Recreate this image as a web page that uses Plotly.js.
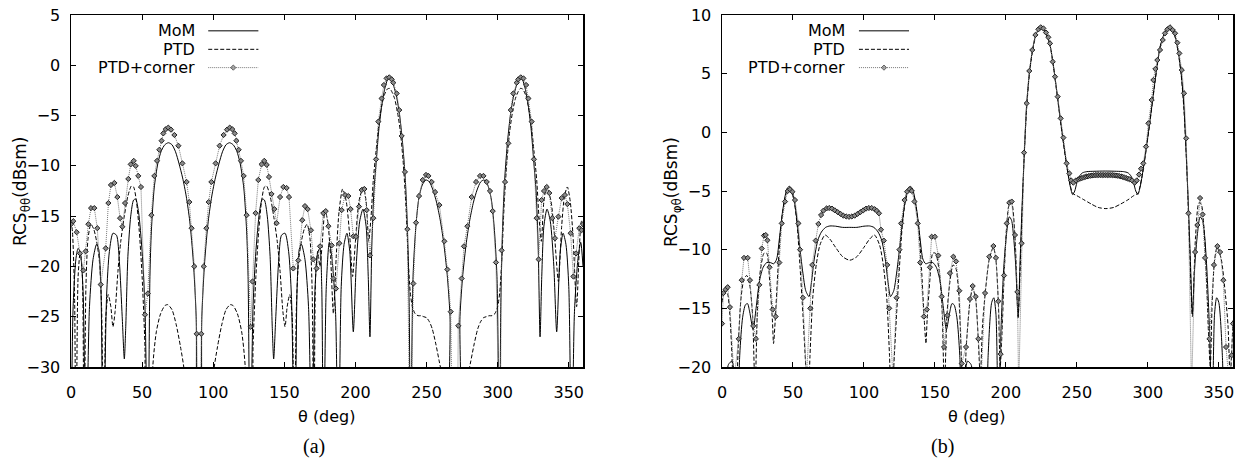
<!DOCTYPE html>
<html><head><meta charset="utf-8">
<script src="https://cdn.plot.ly/plotly-3.0.1.min.js"></script>
<style>html,body{margin:0;padding:0;background:#fff}</style>
</head><body><div id="chart" style="width:1249px;height:471px"></div>
<script>
// ---------- data: [theta (deg), RCS (dBsm)] ----------
const seriesNames = ['MoM', 'PTD', 'PTD+corner'];
const xTicks = [0, 50, 100, 150, 200, 250, 300, 350];
const yTicksA = [-30, -25, -20, -15, -10, -5, 0, 5];
const yTicksB = [-20, -15, -10, -5, 0, 5, 10];

// panel (a) RCS theta-theta
const momA = [[0,-40],[1.5,-24],[3.5,-19.2],[5,-18.2],[6.5,-18.6],[8.5,-22.5],[10.5,-40],[13,-24],[15.5,-19.3],[18,-17.8],[19.5,-18.3],[21,-22],[22.7,-40],[25,-23],[27,-18.5],[29.5,-16.7],[32,-16.9],[34,-19.5],[36,-25],[37.5,-29.2],[38.5,-26],[40,-19],[42,-15],[44,-13.4],[45.5,-13.3],[47.5,-14.6],[50,-18.5],[52,-24],[54,-40],[55.5,-21],[56.5,-16.5],[58.5,-12.2],[61,-9.8],[63.5,-8.5],[66,-7.9],[68.5,-7.7],[71,-7.9],[73.5,-8.6],[76,-9.8],[78.5,-11.2],[81,-13],[83.5,-15.5],[86,-19.5],[88,-25],[89.5,-40],
[90.5,-40],[92,-25],[94,-19.5],[96.5,-15.5],[99,-13],[101.5,-11.2],[104,-9.8],[106.5,-8.6],[109,-7.9],[111.5,-7.7],[114,-7.9],[116.5,-8.5],[119,-9.8],[121.5,-12.2],[123.5,-16.5],[124.5,-21],[126,-40],[128,-24],[130,-18.5],[132.5,-14.6],[134.5,-13.3],[136,-13.4],[138,-15],[140,-19],[141.5,-26],[142.5,-29.2],[144,-25],[146,-19.5],[148,-16.9],[150.5,-16.7],[153,-18.5],[155,-23],[157.3,-40],[159,-22],[160.5,-18.3],[162,-17.8],[164.5,-19.3],[167,-24],[169.5,-40],[171.5,-22.5],[173.5,-18.6],[175,-18.2],[176.3,-22],[177.5,-40],[179.5,-22],[181.6,-17.6],[183.5,-19.2],[186,-24.5],[188,-40],[190,-22],[192,-17.8],[194,-16.7],[196,-18.5],[198.5,-26.5],[200.5,-20],[203,-15.5],[205.3,-14.3],[207.5,-16],[209,-21],[210.2,-27],[211.5,-18],[213,-12.5],[214.5,-9.8],[216.5,-6.3],[218.5,-4.0],[220.5,-2.4],[222.5,-1.45],[224,-1.2],[225.5,-1.5],[227,-2.1],[229,-3.2],[231,-4.9],[233,-7.5],[235,-11.2],[236.5,-16],[237.8,-24],[238.7,-40],[240.5,-21],[242.5,-16],[244.5,-13.3],[247,-11.9],[249.6,-11.4],[252,-11.6],[254.5,-12.4],[257,-13.6],[259.5,-15.3],[262,-17.6],[264.5,-20.8],[266.5,-25],[267.8,-40],
[272.2,-40],[273.5,-25],[275.5,-20.8],[278,-17.6],[280.5,-15.3],[283,-13.6],[285.5,-12.4],[288,-11.6],[290.4,-11.4],[293,-11.9],[295.5,-13.3],[297.5,-16],[299.5,-21],[301.3,-40],[302.2,-24],[303.5,-16],[305,-11.2],[307,-7.5],[309,-4.9],[311,-3.2],[313,-2.1],[314.5,-1.5],[316,-1.2],[317.5,-1.45],[319.5,-2.4],[321.5,-4.0],[323.5,-6.3],[325.5,-9.8],[327,-12.5],[328.5,-18],[329.8,-27],[331,-21],[332.5,-16],[334.7,-14.3],[337,-15.5],[339.5,-20],[341.5,-26.5],[344,-18.5],[346,-16.7],[348,-17.8],[350,-22],[352,-40],[354,-24.5],[356.5,-19.2],[358.4,-17.6],[360,-20]];

const ptdA = [[0,-15.5],[1,-16.5],[2.5,-23],[3.5,-40],[5,-21],[6.5,-18.5],[8,-21],[9.2,-40],[10.5,-22],[12,-17.2],[14,-15.8],[16,-16.3],[18,-17.5],[20,-19.5],[21.5,-24],[23,-40],[24.5,-25],[26.2,-22.8],[28,-24],[29.5,-26],[31,-24.5],[33,-20.5],[35,-17.5],[37.5,-15],[40,-13],[42.5,-12],[44,-12.1],[46,-13.5],[48,-16.5],[50,-21],[52,-28],[53.5,-40],[56.5,-40],[57.5,-30],[60,-26.5],[63,-24.7],[66,-23.9],[68,-23.8],[71,-24.3],[74,-25.8],[77,-28],[79.7,-30.5],[82,-40],
[98,-40],[100.3,-30.5],[103,-28],[106,-25.8],[109,-24.3],[112,-23.8],[114,-23.9],[117,-24.7],[120,-26.5],[122.5,-30],[123.5,-40],[126.5,-40],[128,-28],[130,-21],[132,-16.5],[134,-13.5],[136,-12.1],[137.5,-12],[140,-13],[142.5,-15],[145,-17.5],[147,-20.5],[149,-24.5],[150.5,-26],[152,-24],[153.8,-22.8],[155.5,-25],[157,-40],[158.5,-24],[160,-19.5],[162,-17.5],[164,-16.3],[166,-15.8],[168,-17.2],[169.5,-22],[170.8,-40],[172,-21],[173.5,-18.5],[175,-20],[176.5,-18],[178.6,-14.4],[180.5,-15.5],[182.5,-19],[184.5,-24.7],[186.5,-19],[188.5,-14.5],[191,-12.3],[193.5,-13.5],[196,-17],[198,-21],[200,-17.5],[202.5,-13.5],[205.5,-12.1],[207.5,-13.5],[209.3,-17.5],[211,-15],[212.5,-11.5],[214.5,-8.5],[216.5,-5.8],[218.5,-4.0],[220.5,-2.9],[222.5,-2.35],[224,-2.3],[225.5,-2.6],[227.5,-3.3],[229.5,-4.6],[231.5,-6.5],[233.5,-9.5],[235.5,-14],[237,-19],[238.5,-22.5],[240,-24],[242,-24.7],[244,-24.9],[246,-24.9],[248,-25],[250,-25.1],[252,-25.5],[254,-26.2],[256.5,-27.7],[259,-29.5],[261,-31],[263,-40],
[277,-40],[279,-31],[281,-29.5],[283.5,-27.7],[286,-26.2],[288,-25.5],[290,-25.1],[292,-25],[294,-24.9],[296,-24.9],[298,-24.7],[300,-24],[301.5,-22.5],[303,-19],[304.5,-14],[306.5,-9.5],[308.5,-6.5],[310.5,-4.6],[312.5,-3.3],[314.5,-2.6],[316,-2.3],[317.5,-2.35],[319.5,-2.9],[321.5,-4.0],[323.5,-5.8],[325.5,-8.5],[327.5,-11.5],[329,-15],[330.7,-17.5],[332.5,-13.5],[334.5,-12.1],[337.5,-13.5],[340,-17],[342.7,-21.5],[345,-16],[347,-13],[349,-12.1],[351,-13.5],[353,-17],[355.5,-24],[357.5,-18],[359,-15.5],[360,-15.5]];

const corA = [[0,-15.8],[1.6,-15.5],[4,-16.6],[6.3,-18.7],[8.7,-20.4],[10.3,-18.5],[12.2,-15.8],[14.1,-14.2],[16.4,-14.2],[18.5,-16.2],[20.9,-21.8],[24.4,-18.2],[26.3,-13.7],[28.1,-11.9],[30.5,-11.7],[32.6,-13.1],[34.5,-15.2],[36.1,-16.05],[38,-13.7],[40.3,-11.3],[42,-9.85],[44.1,-9.5],[45.5,-10],[47.3,-11],[49.2,-12.1],[52,-24.8],[54,-22.7],[56.5,-14.9],[58.6,-11],[60.5,-9.5],[62.1,-8.4],[63.7,-7.5],[64.9,-6.77],[66.5,-6.37],[68.4,-6.2],[70.3,-6.4],[72.7,-6.93],[75.5,-8.0],[78.3,-9.75],[81.3,-11.6],[83.2,-13.6],[84.8,-16.2],[86.7,-20],[88.4,-26.7],[90,-40],
[91.6,-26.7],[93.3,-20],[95.2,-16.2],[96.8,-13.6],[98.7,-11.6],[101.7,-9.75],[104.5,-8.0],[107.3,-6.93],[109.7,-6.4],[111.6,-6.2],[113.5,-6.37],[115.1,-6.77],[116.3,-7.5],[117.9,-8.4],[119.5,-9.5],[121.4,-11],[123.5,-14.9],[126.3,-26],[127.6,-21.5],[129.8,-14.7],[131.7,-11.4],[134,-9.85],[135.9,-9.5],[137.6,-9.9],[139.2,-11.1],[141,-12.8],[143,-14.3],[144.6,-15.7],[147,-13.1],[149.3,-12.1],[151.6,-12.2],[153.3,-13.1],[156.3,-20.2],[159.8,-19.4],[162.6,-15.4],[164.5,-14],[166.4,-14.3],[168.7,-16.4],[170.4,-19.3],[172.7,-20.2],[175.1,-18],[177.4,-14.7],[179.1,-14.5],[181,-16],[183.3,-17.9],[184.5,-21.2],[186.3,-22.2],[188.7,-17.7],[190.3,-14.4],[192.7,-12.9],[195,-13],[196.6,-14.3],[198.5,-17],[200.4,-17.05],[202.5,-14.05],[204.4,-12.4],[206.3,-12.3],[207.9,-14.4],[210.2,-18.9],[212.6,-15.2],[214.5,-9.35],[216.1,-5.6],[218.4,-3.3],[220,-1.96],[221.9,-1.3],[223.8,-1.2],[225.5,-1.4],[226.6,-1.73],[229,-2.8],[230.8,-4.45],[232.5,-7.03],[234.8,-10.6],[236.5,-16.3],[238.4,-40],[240.7,-21.7],[242.6,-15.65],[244.7,-13],[247.3,-11.4],[249.6,-10.9],[251.3,-11],[253.6,-11.6],[256,-12.6],[259,-13.9],[262.5,-17.5],[264.6,-20.3],[267,-24.5],[268.5,-40],
[271.5,-40],[272.3,-25.9],[274.7,-21.2],[276.3,-18.0],[278.7,-16],[281.7,-13.1],[284.8,-11.6],[287.6,-11.0],[290,-11],[292.3,-11.6],[294.6,-12.5],[296.5,-14.5],[298.8,-19.6],[301.6,-40],[302.8,-18.4],[305.2,-11.6],[307.5,-7.76],[309.2,-4.45],[311,-2.8],[313.4,-1.73],[314.5,-1.4],[316.2,-1.2],[318.1,-1.3],[320,-1.96],[321.6,-3.3],[323.9,-5.6],[325.5,-9.35],[327.4,-15.2],[328.8,-19.3],[330.9,-13.4],[332.6,-12.5],[334.5,-12.1],[336.3,-12.7],[338.4,-15.2],[340.3,-17.2],[342.7,-15.05],[345,-13.2],[347.3,-12.9],[349,-13.8],[351.3,-16.7],[353.2,-21],[355.1,-18.7],[357.4,-16.2],[359,-16.4],[360,-15.8]];

// panel (b) RCS phi-theta
const momB = [[0,-21],[2,-22.5],[4.5,-19.8],[7,-19.5],[9,-21],[10.5,-28],[12.5,-19],[14.5,-15.8],[16.5,-14.7],[18,-14.6],[19.5,-15.3],[21.9,-16.8],[24,-15],[26.5,-12.6],[29,-11.5],[31.5,-11.1],[34,-11.1],[36.5,-11.2],[38.5,-10.8],[40.5,-9],[42.5,-6.9],[44.5,-5.4],[46,-4.75],[47.5,-4.6],[49,-4.8],[50.5,-5.5],[52,-6.7],[53.5,-8.3],[55,-10],[57,-12],[59,-13.5],[61.3,-14],[63,-12.8],[65,-10.8],[67.5,-9.2],[70,-8.5],[73,-8.1],[76,-7.98],[80,-8],[85,-8.1],[90,-8.1],[95,-8.1],[100,-8],[104,-7.98],[107,-8.1],[110,-8.5],[112.5,-9.2],[115,-10.8],[117,-12.8],[118.7,-14],[121,-13.5],[123,-12],[125,-10],[126.5,-8.3],[128,-6.7],[129.5,-5.5],[131,-4.8],[132.5,-4.6],[134,-4.75],[135.5,-5.4],[137.5,-6.9],[139.5,-9],[141.5,-10.8],[143.5,-11.2],[146,-11.1],[148.5,-11.1],[151,-11.5],[153.5,-12.6],[156,-15],[158.1,-16.8],[160.5,-15.3],[162,-14.6],[163.5,-14.7],[165.5,-15.8],[167.5,-19],[169.5,-28],[171,-21],[173,-19.5],[175.5,-19.8],[178,-22.5],[180,-21],
[182,-24],[185.3,-30],[187.5,-19],[190,-14.5],[191.5,-14.1],[193,-15.5],[194.7,-25],[196.5,-17],[198.5,-11.5],[200.5,-8.6],[202.4,-7.2],[204,-7.5],[205.5,-9],[207,-11.5],[208.6,-15.8],[210,-11],[211.5,-6],[213,-1.8],[214.6,2.3],[216.5,5.0],[218.6,6.9],[220.8,8.2],[222.9,8.75],[224.5,8.9],[226.4,8.8],[228.3,8.45],[230,7.9],[231.5,7.2],[233,6.1],[234.6,4.7],[236.5,2.9],[238.6,0.9],[240.5,-0.8],[242.5,-2.5],[244,-3.7],[245.5,-4.7],[247,-5.3],[248.5,-5.0],[250,-4.3],[252,-3.7],[254,-3.45],[257,-3.35],[262,-3.32],[270,-3.3],[278,-3.32],[283,-3.35],[286,-3.45],[288,-3.7],[290,-4.3],[291.5,-5.0],[293,-5.3],[294.5,-4.7],[296,-3.7],[297.5,-2.5],[299.5,-0.8],[301.4,0.9],[303.5,2.9],[305.4,4.7],[307,6.1],[308.5,7.2],[310,7.9],[311.7,8.45],[313.6,8.8],[315.5,8.9],[317.1,8.75],[319.2,8.2],[321.4,6.9],[323.5,5.0],[325.4,2.3],[327,-1.8],[328.5,-6],[330,-11],[331.4,-15.5],[333,-11.5],[335,-8.6],[336.8,-7.2],[338.5,-7.5],[340,-8.8],[341.5,-11.5],[343.5,-17],[345.3,-25],[347,-15.5],[348.5,-14.1],[350,-14.5],[352.5,-19],[354.7,-30],[357,-24],[360,-21]];

const ptdB = [[0,-14.5],[2,-13.4],[4,-13.8],[5.5,-15.5],[7,-19],[8.5,-24],[9.5,-25],[11.5,-18],[13.5,-14],[15.5,-12.5],[17.4,-12.2],[19.5,-13],[21.5,-15.5],[23.3,-22],[25,-15],[27,-11.8],[29.6,-10.3],[31.5,-10.3],[33.5,-12.5],[35.5,-16],[36.3,-18],[37.5,-16],[39.5,-11.5],[41.5,-8],[43.5,-6.2],[45.5,-5.1],[47.3,-4.9],[49,-5.1],[51,-6],[53,-8],[55,-11.5],[57,-15.5],[59,-20],[60.5,-24],[62,-19],[64,-14],[66.5,-11.2],[69,-9.6],[72.6,-8.75],[76,-9.1],[80,-9.8],[85,-10.6],[90,-10.9],[95,-10.6],[100,-9.8],[104,-9.1],[107.4,-8.75],[111,-9.6],[113.5,-11.2],[116,-14],[118,-19],[119.5,-24],[121,-20],[123,-15.5],[125,-11.5],[127,-8],[129,-6],[131,-5.1],[132.7,-4.9],[134.5,-5.1],[136.5,-6.2],[138.5,-8],[140.5,-11.5],[142.5,-16],[143.7,-18],[144.5,-16],[146.5,-12.5],[148.5,-10.3],[150.4,-10.3],[153,-11.8],[155,-15],[156.7,-22],[158.5,-15.5],[160.5,-12.8],[162.8,-11.3],[164.8,-11.6],[166.8,-13.8],[168.9,-20],[170.5,-24],[172,-18.5],[174.7,-14.4],[176.6,-13.3],[178.7,-14.2],[180.6,-17.8],
[182,-21],[183.5,-16.5],[185.3,-13.9],[188.3,-10.8],[191.2,-9.8],[193,-10.9],[194.7,-14.6],[196,-20],[197.3,-17],[198.7,-12.4],[200.6,-7.9],[202.4,-6.1],[204,-6.0],[206.4,-8.9],[208.6,-15.7],[210.5,-10],[212.8,-2.2],[214.6,2.0],[216.5,4.9],[218.6,6.8],[220.8,8.1],[222.9,8.7],[224.5,8.85],[226.4,8.75],[228.3,8.4],[230,7.9],[231.5,7.2],[233,6.0],[234.6,4.6],[236.5,2.8],[238.6,0.8],[240.5,-0.9],[242.5,-2.6],[244,-3.7],[245.5,-4.6],[247,-5.2],[250,-5.4],[255,-5.75],[260,-6.1],[265,-6.4],[270.5,-6.5],[276,-6.4],[281,-6.1],[286,-5.75],[290,-5.4],[293,-5.2],[294.5,-4.6],[296,-3.7],[297.5,-2.6],[299.5,-0.9],[301.4,0.8],[303.5,2.8],[305.4,4.6],[307,6.0],[308.5,7.2],[310,7.9],[311.7,8.4],[313.6,8.75],[315.5,8.85],[317.1,8.7],[319.2,8.1],[321.4,6.8],[323.5,4.9],[325.4,2.0],[327.2,-2.2],[329.5,-10],[331.4,-15.7],[333.6,-8.9],[336,-6.0],[337.6,-6.1],[339.4,-7.9],[341.3,-12.4],[342.7,-17],[344,-20],[345.3,-14.6],[347,-10.9],[348.8,-9.8],[351.7,-10.8],[354.7,-13.9],[356.5,-16.5],[358,-21],[359.4,-17.8],[360,-16]];

const corB = [[0,-16.3],[1,-13.7],[2.5,-13.4],[4,-13.2],[5.6,-14.9],[8.5,-21],[11.8,-17.6],[13.9,-12.6],[15.5,-10.7],[18.1,-10.7],[19.7,-12.6],[22,-16.5],[23.9,-17.6],[26.3,-13],[28,-9.9],[29.6,-8.8],[30.8,-8.75],[32,-9.2],[33.5,-11.5],[35.7,-15.1],[37.8,-15.7],[40.4,-11.1],[42.1,-7.76],[44.4,-5.9],[46.3,-5.0],[47.9,-4.86],[49.6,-5.06],[51.4,-5.77],[53.8,-7.76],[55,-10],[57,-14.1],[59.5,-21],[62.2,-15],[63.6,-11.3],[66,-9.23],[67.9,-7.81],[69.8,-7.05],[71.4,-6.68],[73.7,-6.48],[75.5,-6.45],[77.5,-6.5],[79.5,-6.65],[81.5,-6.8],[83.5,-6.95],[85.5,-7.1],[87.5,-7.17],[89.5,-7.2],[91.5,-7.17],[93.5,-7.1],[95.5,-6.95],[97.5,-6.8],[99.5,-6.65],[101.5,-6.5],[103.5,-6.45],[105.5,-6.45],[107.5,-6.55],[109,-6.68],[110.6,-6.9],[112,-8.3],[114,-9.23],[116.4,-11.3],[117.8,-15],[120.5,-21],[123,-14.1],[125,-10],[126.2,-7.76],[128.6,-5.77],[130.4,-5.06],[132.1,-4.86],[133.7,-5.0],[135.6,-5.9],[137.9,-7.76],[139.6,-11.1],[142.2,-15.7],[144.3,-15.1],[146.5,-11.5],[147.7,-8.9],[150,-8.9],[152.4,-10.5],[154.8,-14],[156.4,-18.3],[158.8,-15.6],[160.6,-12],[163,-10.6],[164.9,-11],[167.2,-13.5],[168.9,-19.7],[171.9,-18.3],[174.7,-14.2],[176.6,-13.1],[178.7,-14],[180.6,-17.6],
[182.5,-21],[185.3,-13.7],[188.3,-10.6],[191.2,-9.69],[193,-10.7],[194.7,-14.4],[196.3,-18.9],[198.7,-12.2],[200.6,-7.76],[202.4,-6.0],[204.1,-5.9],[206.4,-8.75],[208.1,-13.6],[209,-22],[211.1,-9.46],[212.8,-1.73],[214.6,2.47],[216.5,5.23],[218.6,7.02],[220.8,8.3],[222.9,8.78],[224.5,8.95],[226.4,8.86],[228.3,8.5],[229.9,8.1],[231.1,7.58],[233,6.02],[234.6,4.74],[236.5,3.04],[238.6,1.19],[240.5,-0.45],[242.8,-2.64],[244.7,-3.5],[246,-4.1],[247.5,-4.29],[249.3,-4.1],[251.1,-4.0],[252.3,-3.95],[253.5,-3.9],[254.7,-3.85],[255.9,-3.8],[257.1,-3.76],[258.3,-3.72],[259.5,-3.7],[260.7,-3.68],[261.9,-3.66],[263.1,-3.65],[264.3,-3.64],[265.5,-3.64],[266.7,-3.64],[267.9,-3.64],[269.1,-3.64],[270.3,-3.64],[271.5,-3.64],[272.7,-3.64],[273.9,-3.64],[275.1,-3.65],[276.3,-3.66],[277.5,-3.68],[278.7,-3.7],[279.9,-3.72],[281.1,-3.76],[282.3,-3.8],[283.5,-3.85],[284.7,-3.9],[285.9,-3.95],[287.1,-4.0],[288.9,-4.1],[290.7,-4.29],[292.2,-4.1],[293.8,-3.6],[295.2,-3.1],[296.8,-2.64],[298.7,-1.22],[300.4,0.77],[302.7,2.76],[303.9,4.46],[305.3,5.4],[306.7,6.16],[308.6,7.02],[310.5,7.87],[312.1,8.44],[313.8,8.78],[315.6,8.95],[317.5,8.72],[319.2,8.44],[320.8,7.64],[322.2,6.73],[323.9,5.31],[325.5,3.33],[327,-0.51],[328.6,-6.9],[330.8,-22],[333.3,-10.2],[334.9,-7.9],[336.8,-5.6],[338.6,-7.0],[340.3,-10.7],[343.4,-17.6],[346.6,-11.3],[349,-9.7],[350.9,-10.2],[353.2,-12.6],[355.1,-18.3],[357,-21],[359.1,-19],[360,-16.3]];

// ---------- styles ----------
const FONT = 'DejaVu Sans';
const SERIF = 'Liberation Serif';
const W = 1249, H = 471;
const styles = [
  {mode: 'lines', line: {color: '#000', width: 1, shape: 'spline', smoothing: 0.7}},
  {mode: 'lines', line: {color: '#000', width: 1, dash: '4px,2px', shape: 'spline', smoothing: 0.7}},
  {mode: 'lines+markers', line: {color: '#777', width: 1, dash: '1px,1px'},
   marker: {symbol: 'diamond', size: 4, color: '#8a8a8a', line: {color: '#222', width: 1}}}
];

function trace(data, idx, xa, ya) {
  return Object.assign({
    type: 'scatter', x: data.map(p => p[0]), y: data.map(p => p[1]),
    xaxis: xa, yaxis: ya, showlegend: false, name: seriesNames[idx], hoverinfo: 'skip'
  }, JSON.parse(JSON.stringify(styles[idx])));
}

const traces = [
  trace(momA, 0, 'x', 'y'), trace(ptdA, 1, 'x', 'y'), trace(corA, 2, 'x', 'y'),
  trace(momB, 0, 'x2', 'y2'), trace(ptdB, 1, 'x2', 'y2'), trace(corB, 2, 'x2', 'y2')
];

// legend samples (in overlay axes of each panel, 0..1 units)
const legRowsY = [0.955, 0.9025, 0.8505];
const legX0 = 0.268, legX1 = 0.366;
[['x3', 'y3'], ['x4', 'y4']].forEach(([xa, ya]) => {
  seriesNames.forEach((nm, i) => {
    const st = JSON.parse(JSON.stringify(styles[i]));
    if (i === 2) st.marker.size = [0, 4, 0];
    else st.line.shape = 'linear';
    traces.push(Object.assign({
      type: 'scatter', x: [legX0, (legX0 + legX1) / 2, legX1], y: [legRowsY[i], legRowsY[i], legRowsY[i]],
      xaxis: xa, yaxis: ya, showlegend: false, hoverinfo: 'skip'
    }, st));
  });
});

const pxX = v => v / W, pxY = v => 1 - v / H;
const domA = [pxX(71), pxX(583)], domB = [pxX(722), pxX(1233)];
const domY = [pxY(367), pxY(15)];

function xAxis(dom, anchor) {
  return {domain: dom, anchor: anchor, range: [0, 360], tickmode: 'array', tickvals: xTicks,
    ticks: 'inside', ticklen: 5, tickwidth: 1, tickcolor: '#000',
    showline: true, linecolor: '#000', linewidth: 1.5, mirror: 'ticks',
    showgrid: false, zeroline: false, ticklabelstandoff: 10,
    tickfont: {family: FONT, size: 16, color: '#000'}};
}
function yAxis(range, tv, anchor) {
  return {domain: domY, anchor: anchor, range: range, tickmode: 'array', tickvals: tv,
    ticks: 'inside', ticklen: 5, tickwidth: 1, tickcolor: '#000',
    showline: true, linecolor: '#000', linewidth: 1.5, mirror: 'ticks',
    showgrid: false, zeroline: false, ticklabelstandoff: 6,
    tickfont: {family: FONT, size: 16, color: '#000'}};
}
const hid = (ov, anchor) => ({overlaying: ov, anchor: anchor, range: [0, 1], visible: false, fixedrange: true});

const ann = [];
const txt = (text, x, y, opts) => ann.push(Object.assign({xref: 'paper', yref: 'paper', x: x, y: y, text: text,
  showarrow: false, font: {family: FONT, size: 16, color: '#000'}}, opts || {}));

// legend labels
[197, 847].forEach(xr => {
  seriesNames.forEach((nm, i) => txt(nm, pxX(xr), pxY([30.7, 49.3, 67.7][i]), {xanchor: 'right', yanchor: 'middle'}));
});
// axis titles
const yTitleFont = {family: FONT, size: 17, color: '#000'};
txt('RCS<sub>θθ</sub>(dBsm)', pxX(21), pxY(192), {textangle: -90, xanchor: 'center', yanchor: 'middle', font: yTitleFont});
txt('RCS<sub>φθ</sub>(dBsm)', pxX(672), pxY(192), {textangle: -90, xanchor: 'center', yanchor: 'middle', font: yTitleFont});
txt('θ (deg)', pxX(327), pxY(416), {xanchor: 'center', yanchor: 'middle'});
txt('θ (deg)', pxX(977), pxY(416), {xanchor: 'center', yanchor: 'middle'});
txt('(a)', pxX(314), pxY(446), {xanchor: 'center', yanchor: 'middle', font: {family: SERIF, size: 20, color: '#000'}});
txt('(b)', pxX(943), pxY(446), {xanchor: 'center', yanchor: 'middle', font: {family: SERIF, size: 20, color: '#000'}});

const layout = {
  width: W, height: H, margin: {l: 0, r: 0, t: 0, b: 0},
  paper_bgcolor: '#fff', plot_bgcolor: '#fff', showlegend: false,
  xaxis: xAxis(domA, 'y'), yaxis: yAxis([-30, 5], yTicksA, 'x'),
  xaxis2: xAxis(domB, 'y2'), yaxis2: yAxis([-20, 10], yTicksB, 'x2'),
  xaxis3: hid('x', 'y3'), yaxis3: hid('y', 'x3'),
  xaxis4: hid('x2', 'y4'), yaxis4: hid('y2', 'x4'),
  annotations: ann
};

Plotly.newPlot('chart', traces, layout, {staticPlot: true, displayModeBar: false});
</script>
</body></html>
